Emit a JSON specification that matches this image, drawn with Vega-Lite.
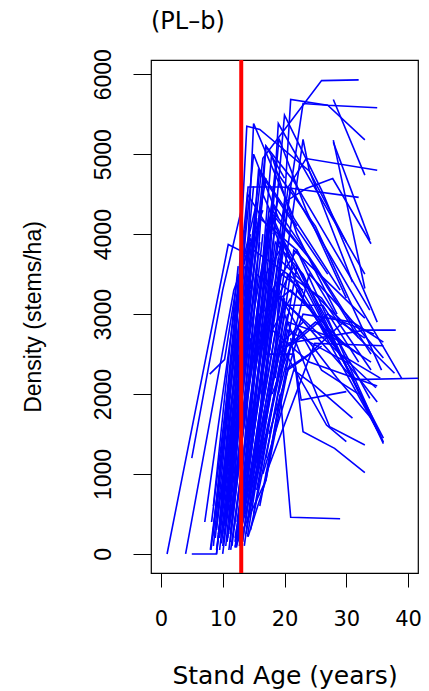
{
  "$schema": "https://vega.github.io/schema/vega-lite/v6.json",
  "width": 267,
  "height": 513,
  "autosize": "none",
  "padding": {"left": 151, "top": 60, "right": 11, "bottom": 118},
  "title": {"text": "(PL–b)", "anchor": "start", "frame": "group", "font": "DejaVu Sans", "fontSize": 24, "fontWeight": "normal", "color": "#000", "offset": 15},
  "config": {
    "view": {"stroke": "#000", "strokeWidth": 1.2},
    "axis": {"grid": false, "domain": false, "tickColor": "#000", "tickWidth": 1, "labelColor": "#000", "titleColor": "#000", "titleFontWeight": "normal", "labelFlush": false, "labelOverlap": false}
  },
  "layer": [
    {
      "data": {"values": [
        {"t":1,"a":1,"d":0},{"t":1,"a":10.9,"d":3870},{"t":1,"a":14,"d":3750},
        {"t":2,"a":4,"d":0},{"t":2,"a":11.8,"d":3300},{"t":2,"a":16.5,"d":4300},
        {"t":3,"a":5,"d":0},{"t":3,"a":9,"d":0},{"t":3,"a":12.5,"d":2700},{"t":3,"a":15,"d":3500},
        {"t":4,"a":5,"d":1200},{"t":4,"a":10,"d":3300},{"t":4,"a":13,"d":4300},
        {"t":5,"a":7.1,"d":400},{"t":5,"a":12,"d":3100},{"t":5,"a":14.5,"d":4000},
        {"t":6,"a":7.9,"d":2250},{"t":6,"a":10.3,"d":2430},{"t":6,"a":12.5,"d":3500},
        {"t":7,"a":8.1,"d":50},{"t":7,"a":11.5,"d":2300},{"t":7,"a":14,"d":3300},
        {"t":8,"a":8.4,"d":220},{"t":8,"a":12.5,"d":3400},{"t":8,"a":15.5,"d":4400},
        {"t":9,"a":14.1,"d":216},{"t":9,"a":17,"d":925},{"t":9,"a":19.3,"d":2000},{"t":9,"a":21,"d":460},{"t":9,"a":29,"d":440},
        {"t":10,"a":12.5,"d":2200},{"t":10,"a":16.5,"d":4950},{"t":10,"a":26,"d":5920},{"t":10,"a":32,"d":5930},
        {"t":11,"a":18.5,"d":2500},{"t":11,"a":21,"d":5684},{"t":11,"a":27,"d":5612},{"t":11,"a":35,"d":5580},
        {"t":12,"a":19.5,"d":3800},{"t":12,"a":23,"d":5633},{"t":12,"a":27,"d":5612},{"t":12,"a":33,"d":5180},
        {"t":13,"a":27.9,"d":5684},{"t":13,"a":33,"d":4738},
        {"t":14,"a":27.9,"d":5175},{"t":14,"a":33,"d":3320},
        {"t":15,"a":27.9,"d":5150},{"t":15,"a":33.8,"d":3925},
        {"t":16,"a":17,"d":2500},{"t":16,"a":20.6,"d":4590},{"t":16,"a":23.5,"d":4946},{"t":16,"a":35,"d":4800},
        {"t":17,"a":11,"d":700},{"t":17,"a":14.1,"d":4590},{"t":17,"a":19.6,"d":4590},{"t":17,"a":32,"d":4460},
        {"t":18,"a":16.5,"d":2600},{"t":18,"a":20,"d":4400},{"t":18,"a":23.5,"d":4570},{"t":18,"a":27.8,"d":4696},{"t":18,"a":34,"d":3880},
        {"t":19,"a":12,"d":2500},{"t":19,"a":13.9,"d":5350},{"t":19,"a":16,"d":5310},{"t":19,"a":24,"d":4790},{"t":19,"a":30,"d":3900},
        {"t":20,"a":12.8,"d":1800},{"t":20,"a":15,"d":5384},{"t":20,"a":21.5,"d":4200},{"t":20,"a":29,"d":3300},
        {"t":21,"a":15.5,"d":1000},{"t":21,"a":19,"d":5384},{"t":21,"a":24,"d":4700},{"t":21,"a":33,"d":3500},
        {"t":22,"a":16,"d":2000},{"t":22,"a":20,"d":5487},{"t":22,"a":26,"d":4550},{"t":22,"a":35,"d":2900},
        {"t":23,"a":14.5,"d":1200},{"t":23,"a":19.1,"d":5196},{"t":23,"a":23.5,"d":4300},{"t":23,"a":30,"d":3200},
        {"t":24,"a":13.5,"d":900},{"t":24,"a":17.9,"d":4990},{"t":24,"a":22,"d":4000},{"t":24,"a":28.5,"d":3000},
        {"t":25,"a":19,"d":3000},{"t":25,"a":23,"d":5184},{"t":25,"a":24,"d":4800},{"t":25,"a":31,"d":3400},
        {"t":26,"a":11.5,"d":500},{"t":26,"a":15.8,"d":4800},{"t":26,"a":20,"d":4300},{"t":26,"a":27,"d":3500},
        {"t":27,"a":13,"d":800},{"t":27,"a":17,"d":5100},{"t":27,"a":21.4,"d":4675},{"t":27,"a":33.8,"d":3050},
        {"t":28,"a":14,"d":1500},{"t":28,"a":18.5,"d":4800},{"t":28,"a":25,"d":4100},{"t":28,"a":35.7,"d":2300},
        {"t":29,"a":15.5,"d":1500},{"t":29,"a":21,"d":4580},{"t":29,"a":39,"d":2190},
        {"t":30,"a":22,"d":3400},{"t":30,"a":31.3,"d":2180},{"t":30,"a":42.5,"d":2200},
        {"t":31,"a":14,"d":400},{"t":31,"a":20.3,"d":2634},{"t":31,"a":33,"d":2800},{"t":31,"a":38,"d":2800},
        {"t":32,"a":17,"d":1000},{"t":32,"a":24.9,"d":2634},{"t":32,"a":36,"d":2604},
        {"t":33,"a":16,"d":1500},{"t":33,"a":20,"d":3110},{"t":33,"a":26.2,"d":3110},{"t":33,"a":32,"d":2400},
        {"t":34,"a":21,"d":2700},{"t":34,"a":22.7,"d":1925},{"t":34,"a":30,"d":2030},
        {"t":35,"a":13,"d":400},{"t":35,"a":19,"d":3700},{"t":35,"a":37.8,"d":2260},
        {"t":36,"a":13.5,"d":600},{"t":36,"a":18,"d":3300},{"t":36,"a":34.8,"d":2079},
        {"t":37,"a":14.5,"d":900},{"t":37,"a":20,"d":3900},{"t":37,"a":33.8,"d":1946},
        {"t":38,"a":15,"d":500},{"t":38,"a":22,"d":3600},{"t":38,"a":35,"d":1550},
        {"t":39,"a":13,"d":300},{"t":39,"a":18,"d":3300},{"t":39,"a":22,"d":3800},{"t":39,"a":36,"d":1400},
        {"t":40,"a":12.5,"d":200},{"t":40,"a":17.5,"d":3000},{"t":40,"a":21.5,"d":3600},{"t":40,"a":36,"d":1450},
        {"t":41,"a":13.5,"d":100},{"t":41,"a":19,"d":3400},{"t":41,"a":24,"d":3100},{"t":41,"a":35.5,"d":1480},
        {"t":42,"a":12,"d":150},{"t":42,"a":18.5,"d":3900},{"t":42,"a":23,"d":3500},{"t":42,"a":36,"d":1380},
        {"t":43,"a":14,"d":400},{"t":43,"a":20,"d":3000},{"t":43,"a":27.3,"d":1591},{"t":43,"a":33,"d":1362},
        {"t":44,"a":13,"d":500},{"t":44,"a":19.5,"d":2600},{"t":44,"a":26.8,"d":1612},{"t":44,"a":30,"d":1404},
        {"t":45,"a":12,"d":200},{"t":45,"a":17,"d":2500},{"t":45,"a":21.5,"d":2500},{"t":45,"a":23,"d":1529},{"t":45,"a":28.1,"d":1321},{"t":45,"a":33,"d":1016},
        {"t":46,"a":12.2,"d":83},{"t":46,"a":17,"d":1500},{"t":46,"a":20.5,"d":2800},{"t":46,"a":30,"d":2400},{"t":46,"a":35,"d":1900},
        {"t":47,"a":11,"d":300},{"t":47,"a":16,"d":3000},{"t":47,"a":21,"d":3300},{"t":47,"a":30,"d":2600},
        {"t":48,"a":14.5,"d":600},{"t":48,"a":19,"d":2500},{"t":48,"a":25,"d":2900},{"t":48,"a":32,"d":2500},
        {"t":49,"a":10,"d":100},{"t":49,"a":15.5,"d":3500},{"t":49,"a":22,"d":3000},{"t":49,"a":31,"d":2200},
        {"t":50,"a":15,"d":1000},{"t":50,"a":20.5,"d":3500},{"t":50,"a":26,"d":3200},{"t":50,"a":34,"d":2300},
        {"t":51,"a":9.5,"d":200},{"t":51,"a":15,"d":3800},{"t":51,"a":20.5,"d":3500},{"t":51,"a":28,"d":2600},
        {"t":52,"a":10.5,"d":400},{"t":52,"a":16,"d":4200},{"t":52,"a":22,"d":3800},{"t":52,"a":29,"d":2900},
        {"t":53,"a":11.2,"d":150},{"t":53,"a":17.5,"d":4300},{"t":53,"a":24,"d":3700},{"t":53,"a":32,"d":2700},
        {"t":54,"a":12.8,"d":350},{"t":54,"a":18,"d":4400},{"t":54,"a":25,"d":3600},{"t":54,"a":34,"d":2500},
        {"t":55,"a":13.2,"d":150},{"t":55,"a":18,"d":2800},{"t":55,"a":24,"d":2400},{"t":55,"a":35,"d":2100},
        {"t":56,"a":8,"d":50},{"t":56,"a":12.8,"d":3000},{"t":56,"a":14.5,"d":3950},
        {"t":57,"a":8.2,"d":400},{"t":57,"a":13,"d":3400},
        {"t":58,"a":8.5,"d":100},{"t":58,"a":14,"d":4500},{"t":58,"a":18,"d":4000},
        {"t":59,"a":8.5,"d":600},{"t":59,"a":12.5,"d":3600},
        {"t":60,"a":8.8,"d":200},{"t":60,"a":15,"d":5000},{"t":60,"a":19,"d":4200},
        {"t":61,"a":9,"d":0},{"t":61,"a":13.5,"d":3000},{"t":61,"a":15.5,"d":4300},
        {"t":62,"a":9,"d":300},{"t":62,"a":14.5,"d":3900},
        {"t":63,"a":9.2,"d":150},{"t":63,"a":16,"d":4800},{"t":63,"a":22,"d":4100},
        {"t":64,"a":9.5,"d":50},{"t":64,"a":15,"d":3800},{"t":64,"a":17,"d":4700},
        {"t":65,"a":9.5,"d":400},{"t":65,"a":13.5,"d":4050},
        {"t":66,"a":9.8,"d":133},{"t":66,"a":16.5,"d":4500},{"t":66,"a":21,"d":3700},
        {"t":67,"a":10,"d":250},{"t":67,"a":15.5,"d":4200},
        {"t":68,"a":10,"d":0},{"t":68,"a":14.5,"d":2800},{"t":68,"a":18,"d":4300},{"t":68,"a":23,"d":3800},
        {"t":69,"a":10.2,"d":350},{"t":69,"a":16,"d":3900},
        {"t":70,"a":10.5,"d":100},{"t":70,"a":17,"d":5100},{"t":70,"a":20,"d":4700},
        {"t":71,"a":10.5,"d":500},{"t":71,"a":14.5,"d":3300},
        {"t":72,"a":10.8,"d":200},{"t":72,"a":17.5,"d":4200},{"t":72,"a":23,"d":3200},
        {"t":73,"a":11,"d":50},{"t":73,"a":16,"d":3300},{"t":73,"a":19,"d":4450},
        {"t":74,"a":11,"d":400},{"t":74,"a":15.5,"d":3600},
        {"t":75,"a":11.2,"d":250},{"t":75,"a":18,"d":4400},
        {"t":76,"a":11.5,"d":100},{"t":76,"a":17,"d":3500},{"t":76,"a":20,"d":3900},
        {"t":77,"a":11.5,"d":500},{"t":77,"a":16.5,"d":4000},
        {"t":78,"a":11.8,"d":300},{"t":78,"a":18.5,"d":4100},{"t":78,"a":22,"d":3500},
        {"t":79,"a":12,"d":80},{"t":79,"a":17.5,"d":3200},
        {"t":80,"a":12.2,"d":83},{"t":80,"a":18,"d":3700},
        {"t":81,"a":12.3,"d":400},{"t":81,"a":19,"d":4000},
        {"t":82,"a":12.5,"d":200},{"t":82,"a":18.5,"d":3300},
        {"t":83,"a":12.8,"d":600},{"t":83,"a":16.5,"d":3200},
        {"t":84,"a":13,"d":300},{"t":84,"a":19.5,"d":3500},{"t":84,"a":23,"d":3300},
        {"t":85,"a":13.2,"d":150},{"t":85,"a":18,"d":2800},{"t":85,"a":21,"d":3200},
        {"t":86,"a":13.5,"d":500},{"t":86,"a":19,"d":3000},
        {"t":87,"a":13.8,"d":250},{"t":87,"a":20,"d":3200},
        {"t":88,"a":14,"d":216},{"t":88,"a":19,"d":2600},{"t":88,"a":23,"d":2900},
        {"t":89,"a":14.2,"d":700},{"t":89,"a":20.5,"d":3000},
        {"t":90,"a":12,"d":91},{"t":90,"a":17,"d":925},{"t":90,"a":20.5,"d":2300},{"t":90,"a":26,"d":2600},
        {"t":91,"a":9,"d":50},{"t":91,"a":12,"d":1800},{"t":91,"a":14,"d":3000},
        {"t":92,"a":9.3,"d":250},{"t":92,"a":13,"d":2500},
        {"t":93,"a":10.7,"d":150},{"t":93,"a":14,"d":2000},{"t":93,"a":17,"d":3300},
        {"t":94,"a":11.3,"d":50},{"t":94,"a":15,"d":2200},{"t":94,"a":17,"d":3000},
        {"t":95,"a":11.7,"d":600},{"t":95,"a":14.5,"d":2700},
        {"t":96,"a":12.7,"d":100},{"t":96,"a":16,"d":2400},{"t":96,"a":18,"d":3600},
        {"t":97,"a":13.6,"d":350},{"t":97,"a":17.5,"d":2600},{"t":97,"a":19.5,"d":3800},
        {"t":98,"a":14.5,"d":300},{"t":98,"a":18.5,"d":1800},{"t":98,"a":21,"d":2900},
        {"t":99,"a":10.2,"d":900},{"t":99,"a":13.5,"d":3600},
        {"t":100,"a":9.7,"d":700},{"t":100,"a":12,"d":2200},{"t":100,"a":15,"d":4600},
        {"t":101,"a":15.5,"d":800},{"t":101,"a":20.5,"d":2900},{"t":101,"a":28,"d":2700},{"t":101,"a":34,"d":2400},
        {"t":102,"a":16,"d":600},{"t":102,"a":21,"d":2600},{"t":102,"a":27,"d":3000},{"t":102,"a":33,"d":2700},
        {"t":103,"a":17,"d":1200},{"t":103,"a":22,"d":3300},{"t":103,"a":29,"d":2500},{"t":103,"a":35.5,"d":2200},
        {"t":104,"a":18,"d":2000},{"t":104,"a":23,"d":3000},{"t":104,"a":31,"d":2900},{"t":104,"a":36,"d":2650},
        {"t":105,"a":15,"d":1200},{"t":105,"a":19.5,"d":3200},{"t":105,"a":26,"d":2300},{"t":105,"a":32,"d":2000},
        {"t":106,"a":16.5,"d":1000},{"t":106,"a":21.5,"d":2300},{"t":106,"a":25,"d":2100},{"t":106,"a":31,"d":1700},
        {"t":107,"a":17.5,"d":1500},{"t":107,"a":22.5,"d":2800},{"t":107,"a":28.5,"d":2200},{"t":107,"a":34,"d":1700},
        {"t":108,"a":19,"d":2000},{"t":108,"a":24,"d":3500},{"t":108,"a":30,"d":3000},{"t":108,"a":36,"d":2450},
        {"t":109,"a":20,"d":2300},{"t":109,"a":24,"d":2500},{"t":109,"a":29.5,"d":2900},{"t":109,"a":34.5,"d":2750},
        {"t":110,"a":18.5,"d":2200},{"t":110,"a":21.5,"d":3800},{"t":110,"a":27,"d":3400},{"t":110,"a":33,"d":2950}
      ]},
      "mark": {"type": "line", "clip": true, "color": "#0000ff", "strokeWidth": 1.6},
      "encoding": {
        "x": {"field": "a", "type": "quantitative",
          "scale": {"domain": [-1.6, 41.6], "nice": false, "zero": false},
          "axis": {"values": [0, 10, 20, 30, 40], "format": "d", "tickSize": 14, "labelFont": "DejaVu Sans", "labelFontSize": 21, "labelPadding": 21.7,
            "title": "Stand Age (years)", "titleFont": "DejaVu Sans", "titleFontSize": 25, "titleBaseline": "alphabetic", "titleAlign": "center", "titleX": 133.5, "titleY": 110}},
        "y": {"field": "d", "type": "quantitative",
          "scale": {"domain": [-238, 6178], "nice": false, "zero": false},
          "axis": {"values": [0, 1000, 2000, 3000, 4000, 5000, 6000], "format": "d", "tickSize": 18, "labelAngle": 270, "labelAlign": "center", "labelBaseline": "alphabetic", "labelPadding": 23, "labelFont": "Liberation Sans", "labelFontSize": 23,
            "title": "Density (stems/ha)", "titleFont": "Liberation Sans", "titleFontSize": 23, "titleAngle": 270, "titleAlign": "center", "titleBaseline": "alphabetic", "titleX": -111, "titleY": 256.5}},
        "detail": {"field": "t", "type": "nominal"}
      }
    },
    {
      "data": {"values": [{"a": 13}]},
      "mark": {"type": "rule", "color": "#ff0000", "strokeWidth": 4},
      "encoding": {"x": {"field": "a", "type": "quantitative"}}
    }
  ]
}
